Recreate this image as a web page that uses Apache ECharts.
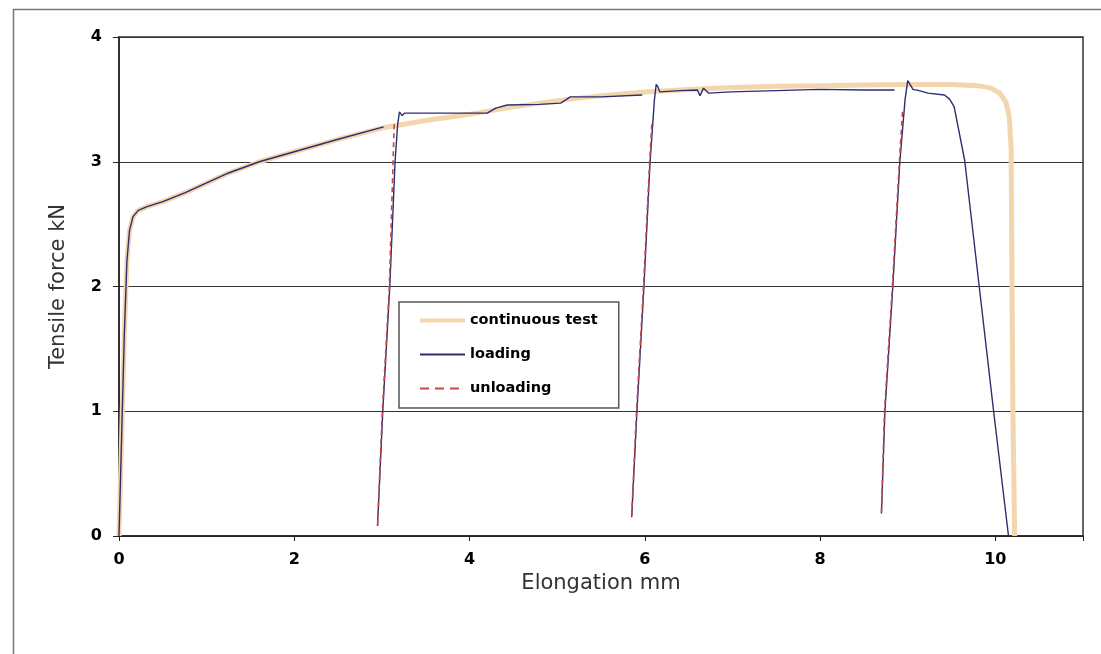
<!DOCTYPE html>
<html>
<head>
<meta charset="utf-8">
<script src="https://cdn.jsdelivr.net/npm/echarts@6/dist/echarts.min.js"></script>
<style>
html,body{margin:0;padding:0;background:#fff;}
#chart{width:1101px;height:654px;}
</style>
</head>
<body>
<div id="chart"></div>
<script>
// ---- data (elongation mm, tensile force kN) ----
const continuousTest = [
  [0,0],[0.03,0.8],[0.06,1.6],[0.09,2.2],[0.12,2.45],[0.16,2.56],[0.22,2.61],[0.32,2.64],
  [0.5,2.68],[0.75,2.75],[1.0,2.83],[1.25,2.91],[1.6,3.0],[2.0,3.08],[2.5,3.18],[3.0,3.27],
  [3.5,3.33],[4.0,3.38],[4.5,3.44],[5.0,3.49],[5.5,3.53],[6.0,3.56],[6.5,3.58],[7.0,3.595],
  [7.5,3.605],[8.0,3.61],[8.5,3.615],[9.0,3.62],[9.5,3.62],[9.8,3.61],[9.95,3.59],[10.05,3.55],
  [10.12,3.48],[10.16,3.35],[10.18,3.1],[10.19,2.0],[10.2,1.0],[10.22,0]
];
const loading1 = [
  [0,0],[0.03,0.8],[0.06,1.6],[0.09,2.2],[0.12,2.45],[0.16,2.56],[0.22,2.61],[0.32,2.64],
  [0.5,2.68],[0.75,2.75],[1.0,2.83],[1.25,2.91],[1.6,3.0],[2.0,3.08],[2.5,3.18],[3.02,3.28]
];
const loading2 = [
  [2.95,0.08],[3.01,1.0],[3.09,2.0],[3.15,3.0],[3.18,3.3],[3.2,3.40],[3.23,3.37],[3.26,3.39],
  [3.5,3.39],[4.0,3.39],[4.2,3.39],[4.3,3.43],[4.43,3.455],[4.8,3.46],[5.04,3.47],[5.15,3.52],
  [5.5,3.52],[5.97,3.535]
];
const loading3 = [
  [5.85,0.15],[5.91,1.0],[5.99,2.0],[6.06,3.0],[6.11,3.5],[6.13,3.62],[6.15,3.6],[6.17,3.56],
  [6.4,3.57],[6.6,3.575],[6.63,3.53],[6.67,3.59],[6.7,3.57],[6.73,3.55],[6.98,3.56],[7.5,3.57],
  [8.0,3.58],[8.5,3.575],[8.85,3.575]
];
const loading4 = [
  [8.7,0.18],[8.74,1.0],[8.83,2.0],[8.91,3.0],[8.97,3.5],[9.0,3.65],[9.06,3.58],[9.13,3.57],
  [9.23,3.55],[9.42,3.535],[9.48,3.5],[9.53,3.44],[9.65,3.01],[9.98,1.0],[10.15,0]
];
const unloading1 = [[3.14,3.3],[3.085,2.0],[3.005,1.0],[2.95,0.08]];
const unloading2 = [[6.08,3.3],[6.055,3.0],[5.985,2.0],[5.905,1.0],[5.85,0.15]];
const unloading3 = [[8.94,3.4],[8.905,3.0],[8.825,2.0],[8.735,1.0],[8.7,0.18]];
const xTicks = [0,2,4,6,8,10];
const yTicks = [0,1,2,3,4];
const seriesNames = ['continuous test','loading','unloading'];

const chart = echarts.init(document.getElementById('chart'), null, {renderer:'canvas'});
const loadStyle = {color:'#2e2d70', width:1.4};
const unloadStyle = {color:'#c8463f', width:1.6, type:[5,4]};
function mk(name, data, style, z){
  return {name:name, type:'line', data:data, symbol:'none', showSymbol:false,
    lineStyle:style, itemStyle:{color:style.color}, z:z, animation:false, silent:true};
}
chart.setOption({
  animation:false,
  graphic:[{type:'rect', left:11, top:7, shape:{width:1100, height:660},
    style:{fill:'none', stroke:'#777', lineWidth:1.5}, z:-10}],
  grid:{left:119, top:37, right:18, bottom:118, show:true, borderColor:'#333', borderWidth:1.5},
  legend:{
    data:[
      {name:seriesNames[0], lineStyle:{width:4}},
      {name:seriesNames[1], lineStyle:{width:2}},
      {name:seriesNames[2], lineStyle:{width:2, type:[9,6]}}
    ],
    orient:'vertical', left:399, top:302,
    padding:[11,21,12,19], itemWidth:45, itemHeight:14, itemGap:19,
    borderColor:'#555', borderWidth:1.5, backgroundColor:'#fff',
    itemStyle:{opacity:0},
    textStyle:{fontFamily:'DejaVu Sans', fontWeight:'bold', fontSize:14.5, color:'#000'}
  },
  xAxis:{
    type:'value', min:0, max:11, interval:2,
    name:'Elongation mm', nameLocation:'middle', nameGap:33,
    nameTextStyle:{fontFamily:'DejaVu Sans', fontSize:21, color:'#333'},
    axisLine:{show:true, lineStyle:{color:'#222', width:1.5}},
    axisTick:{show:true, length:5, lineStyle:{color:'#222'}},
    splitLine:{show:false},
    axisLabel:{margin:16, fontFamily:'DejaVu Sans', fontWeight:'bold', fontSize:16, color:'#000',
      formatter:function(v){return xTicks.indexOf(v)>=0 ? String(v) : '';}}
  },
  yAxis:{
    type:'value', min:0, max:4, interval:1,
    name:'Tensile force kN', nameLocation:'middle', nameGap:50,
    nameTextStyle:{fontFamily:'DejaVu Sans', fontSize:21, color:'#333'},
    axisLine:{show:true, lineStyle:{color:'#222', width:1.5}},
    axisTick:{show:true, length:6, lineStyle:{color:'#222'}},
    splitLine:{show:true, lineStyle:{color:'#333', width:1}},
    axisLabel:{margin:17, fontFamily:'DejaVu Sans', fontWeight:'bold', fontSize:16, color:'#000',
      formatter:function(v){return yTicks.indexOf(v)>=0 ? String(v) : '';}}
  },
  series:[
    mk(seriesNames[0], continuousTest, {color:'#f3d6ae', width:5}, 1),
    mk(seriesNames[1], loading1, loadStyle, 2),
    mk(seriesNames[1], loading2, loadStyle, 2),
    mk(seriesNames[1], loading3, loadStyle, 2),
    mk(seriesNames[1], loading4, loadStyle, 2),
    mk(seriesNames[2], unloading1, unloadStyle, 3),
    mk(seriesNames[2], unloading2, unloadStyle, 3),
    mk(seriesNames[2], unloading3, unloadStyle, 3)
  ]
});
</script>
</body>
</html>
